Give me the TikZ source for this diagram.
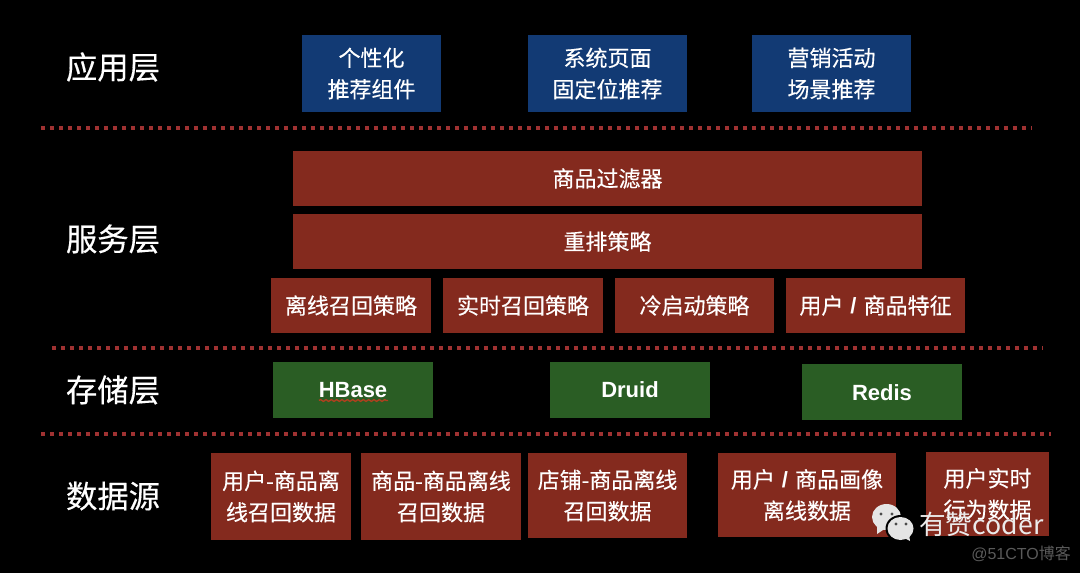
\documentclass[tikz,border=0pt]{standalone}
\usepackage{fontspec}
\setmainfont{Liberation Sans}
\newfontfamily\cjk[FakeBold=0.35]{Noto Sans CJK SC}
\newfontfamily\cjkthin{Noto Sans CJK SC}
\usetikzlibrary{decorations.pathmorphing}
\definecolor{blueb}{HTML}{123A74}
\definecolor{redb}{HTML}{842A1E}
\definecolor{greenb}{HTML}{2A5D24}
\definecolor{dotc}{HTML}{A03232}
\definecolor{wmgrey}{HTML}{5A5A5A}
\definecolor{wave}{HTML}{B0401E}
\tikzset{x=0.75pt,y=-0.75pt,
  boxbase/.style={inner sep=0pt,align=center,text=white,font=\cjk\fontsize{16.5}{23.5}\selectfont},
  layerlabel/.style={inner sep=0pt,text=white,font=\cjk\fontsize{23.5}{28}\selectfont},
  sepline/.style={draw=dotc,line width=3pt,dash pattern=on 3pt off 3.75pt},
  latin/.style={inner sep=0pt,text=white,font=\bfseries\fontsize{16.5}{20}\selectfont},
  bubble/.style={fill=#1,draw=none}}
\newcommand{\bx}[7]{\node[boxbase,fill=#6,minimum width=#4*0.75pt-#2*0.75pt,minimum height=#5*0.75pt-#3*0.75pt] (#1) at ({(#2+#4)/2},{(#3+#5)/2}) {#7};}
\newcommand{\slashsep}{\hspace{0.32em}{\rmfamily\bfseries /}\hspace{0.32em}}
\begin{document}
\begin{tikzpicture}
\useasboundingbox (0,0) rectangle (1080,573);
\fill[black] (0,0) rectangle (1080,573);
% layer labels
\node[layerlabel] (l1) at (113,67) {应用层};
\node[layerlabel] (l2) at (113,239) {服务层};
\node[layerlabel] (l3) at (113,390) {存储层};
\node[layerlabel] (l4) at (113,496) {数据源};
% separators
\coordinate (s1a) at (41,128); \coordinate (s1b) at (1032,128);
\coordinate (s2a) at (52,347.5); \coordinate (s2b) at (1043,347.5);
\coordinate (s3a) at (41,434); \coordinate (s3b) at (1051,434);
\draw[sepline] (s1a) -- (s1b);
\draw[sepline] (s2a) -- (s2b);
\draw[sepline] (s3a) -- (s3b);
% application
\bx{a1}{302}{35}{441}{112}{blueb}{个性化\\推荐组件}
\bx{a2}{528}{35}{687}{112}{blueb}{系统页面\\固定位推荐}
\bx{a3}{752}{35}{911}{112}{blueb}{营销活动\\场景推荐}
% service
\bx{s1}{293}{151}{922}{206}{redb}{商品过滤器}
\bx{s2}{293}{214}{922}{269}{redb}{重排策略}
\bx{r1}{271}{278}{431}{333}{redb}{离线召回策略}
\bx{r2}{443}{278}{603}{333}{redb}{实时召回策略}
\bx{r3}{615}{278}{774}{333}{redb}{冷启动策略}
\bx{r4}{786}{278}{965}{333}{redb}{用户\slashsep 商品特征}
% storage
\bx{g1}{273}{362}{433}{418}{greenb}{}
\bx{g2}{550}{362}{710}{418}{greenb}{}
\bx{g3}{802}{364}{962}{420}{greenb}{}
\node[latin] (t1) at (353,390.5) {HBase};
\node[latin] (t2) at (630,390) {Druid};
\node[latin] (t3) at (882,393) {Redis};
\coordinate (w1) at (319,400.5); \coordinate (w2) at (388,400.5);
\draw[wave,line width=1pt,decorate,decoration={snake,amplitude=0.7pt,segment length=4pt}] (w1) -- (w2);
% data
\bx{d1}{211}{453}{351}{540}{redb}{用户-商品离\\线召回数据}
\bx{d2}{361}{453}{521}{540}{redb}{商品-商品离线\\召回数据}
\bx{d3}{528}{453}{687}{538}{redb}{店铺-商品离线\\召回数据}
\bx{d4}{718}{453}{896}{537}{redb}{用户\slashsep 商品画像\\离线数据}
\bx{d5}{926}{452}{1049}{536}{redb}{用户实时\\行为数据}
% watermark
\fill[bubble=white!90!black] (886.5,517) ellipse (14.5 and 13);
\fill[bubble=white!90!black] (877,526) -- (877,534) -- (886,528) -- cycle;
\fill[black!70!white,draw=none] (881,514) circle (1.6) (892,514) circle (1.6);
\fill[bubble=black] (900.5,528.5) ellipse (15 and 13.5);
\fill[bubble=white!90!black] (900.5,528.5) ellipse (13 and 11.5);
\fill[bubble=white!90!black] (904,538) -- (910,541) -- (909,534) -- cycle;
\fill[black!70!white,draw=none] (896,524) circle (1.6) (906,524) circle (1.6);
\node[inner sep=0pt,anchor=west,text=white!92!black,font=\cjkthin\fontsize{20}{22}\selectfont] (wm1) at (919,524) {有赞coder};
\node[inner sep=0pt,anchor=west,text=wmgrey,font=\fontsize{12}{15}\selectfont] (wm2) at (971,553.5) {@51CTO{\cjkthin 博客}};
\end{tikzpicture}
\end{document}
